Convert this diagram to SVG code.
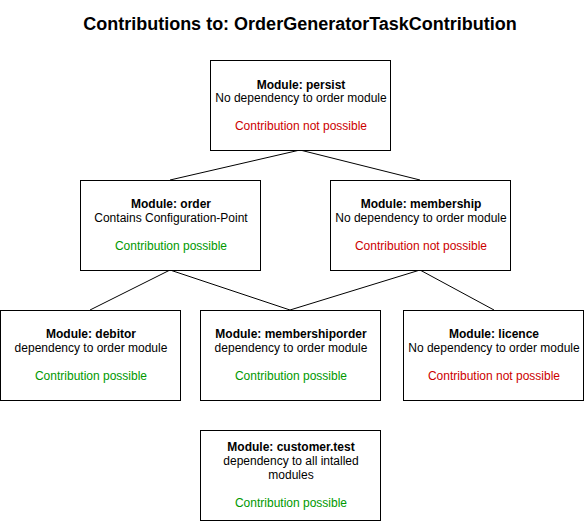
<svg xmlns="http://www.w3.org/2000/svg" width="585" height="521" viewBox="0 0 585 521">
<style>
text{font-family:"Liberation Sans",Arial,sans-serif;font-size:12px;text-anchor:middle;fill:#000}
.t{font-size:18px;font-weight:bold}
.b{font-weight:bold}
.r{fill:#CC0000}
.g{fill:#009900}
rect{fill:#fff;stroke:#000;stroke-width:1}
.c line{stroke:#000;stroke-width:1}
</style>
<rect x="0" y="0" width="585" height="521" style="stroke:none"/>
<text class="t" x="300" y="30">Contributions to: OrderGeneratorTaskContribution</text>
<g class="c" id="connectors">
<line x1="300" y1="150" x2="170" y2="180"/>
<line x1="300" y1="150" x2="420" y2="180"/>
<line x1="170" y1="270" x2="90" y2="310"/>
<line x1="170" y1="270" x2="290" y2="310"/>
<line x1="420" y1="270" x2="290" y2="310"/>
<line x1="420" y1="270" x2="494" y2="310"/>
</g>
<g id="persist">
<rect x="210.5" y="60.5" width="180" height="90"/>
<text x="301" y="89" class="b">Module: persist</text>
<text x="301" y="102">No dependency to order module</text>
<text x="301" y="130" class="r">Contribution not possible</text>
</g>
<g id="order">
<rect x="80.5" y="180.5" width="180" height="90"/>
<text x="171" y="208" class="b">Module: order</text>
<text x="171" y="222">Contains Configuration-Point</text>
<text x="171" y="250" class="g">Contribution possible</text>
</g>
<g id="membership">
<rect x="330.5" y="180.5" width="180" height="90"/>
<text x="421" y="208" class="b">Module: membership</text>
<text x="421" y="222">No dependency to order module</text>
<text x="421" y="250" class="r">Contribution not possible</text>
</g>
<g id="debitor">
<rect x="0.5" y="310.5" width="180" height="90"/>
<text x="91" y="338" class="b">Module: debitor</text>
<text x="91" y="352">dependency to order module</text>
<text x="91" y="380" class="g">Contribution possible</text>
</g>
<g id="membershiporder">
<rect x="200.5" y="310.5" width="180" height="90"/>
<text x="291" y="338" class="b">Module: membershiporder</text>
<text x="291" y="352">dependency to order module</text>
<text x="291" y="380" class="g">Contribution possible</text>
</g>
<g id="licence">
<rect x="403.5" y="310.5" width="180" height="90"/>
<text x="494" y="338" class="b">Module: licence</text>
<text x="494" y="352">No dependency to order module</text>
<text x="494" y="380" class="r">Contribution not possible</text>
</g>
<g id="customertest">
<rect x="200.5" y="430.5" width="180" height="90"/>
<text x="291" y="451" class="b">Module: customer.test</text>
<text x="291" y="465">dependency to all intalled</text>
<text x="291" y="479">modules</text>
<text x="291" y="507" class="g">Contribution possible</text>
</g>
</svg>
